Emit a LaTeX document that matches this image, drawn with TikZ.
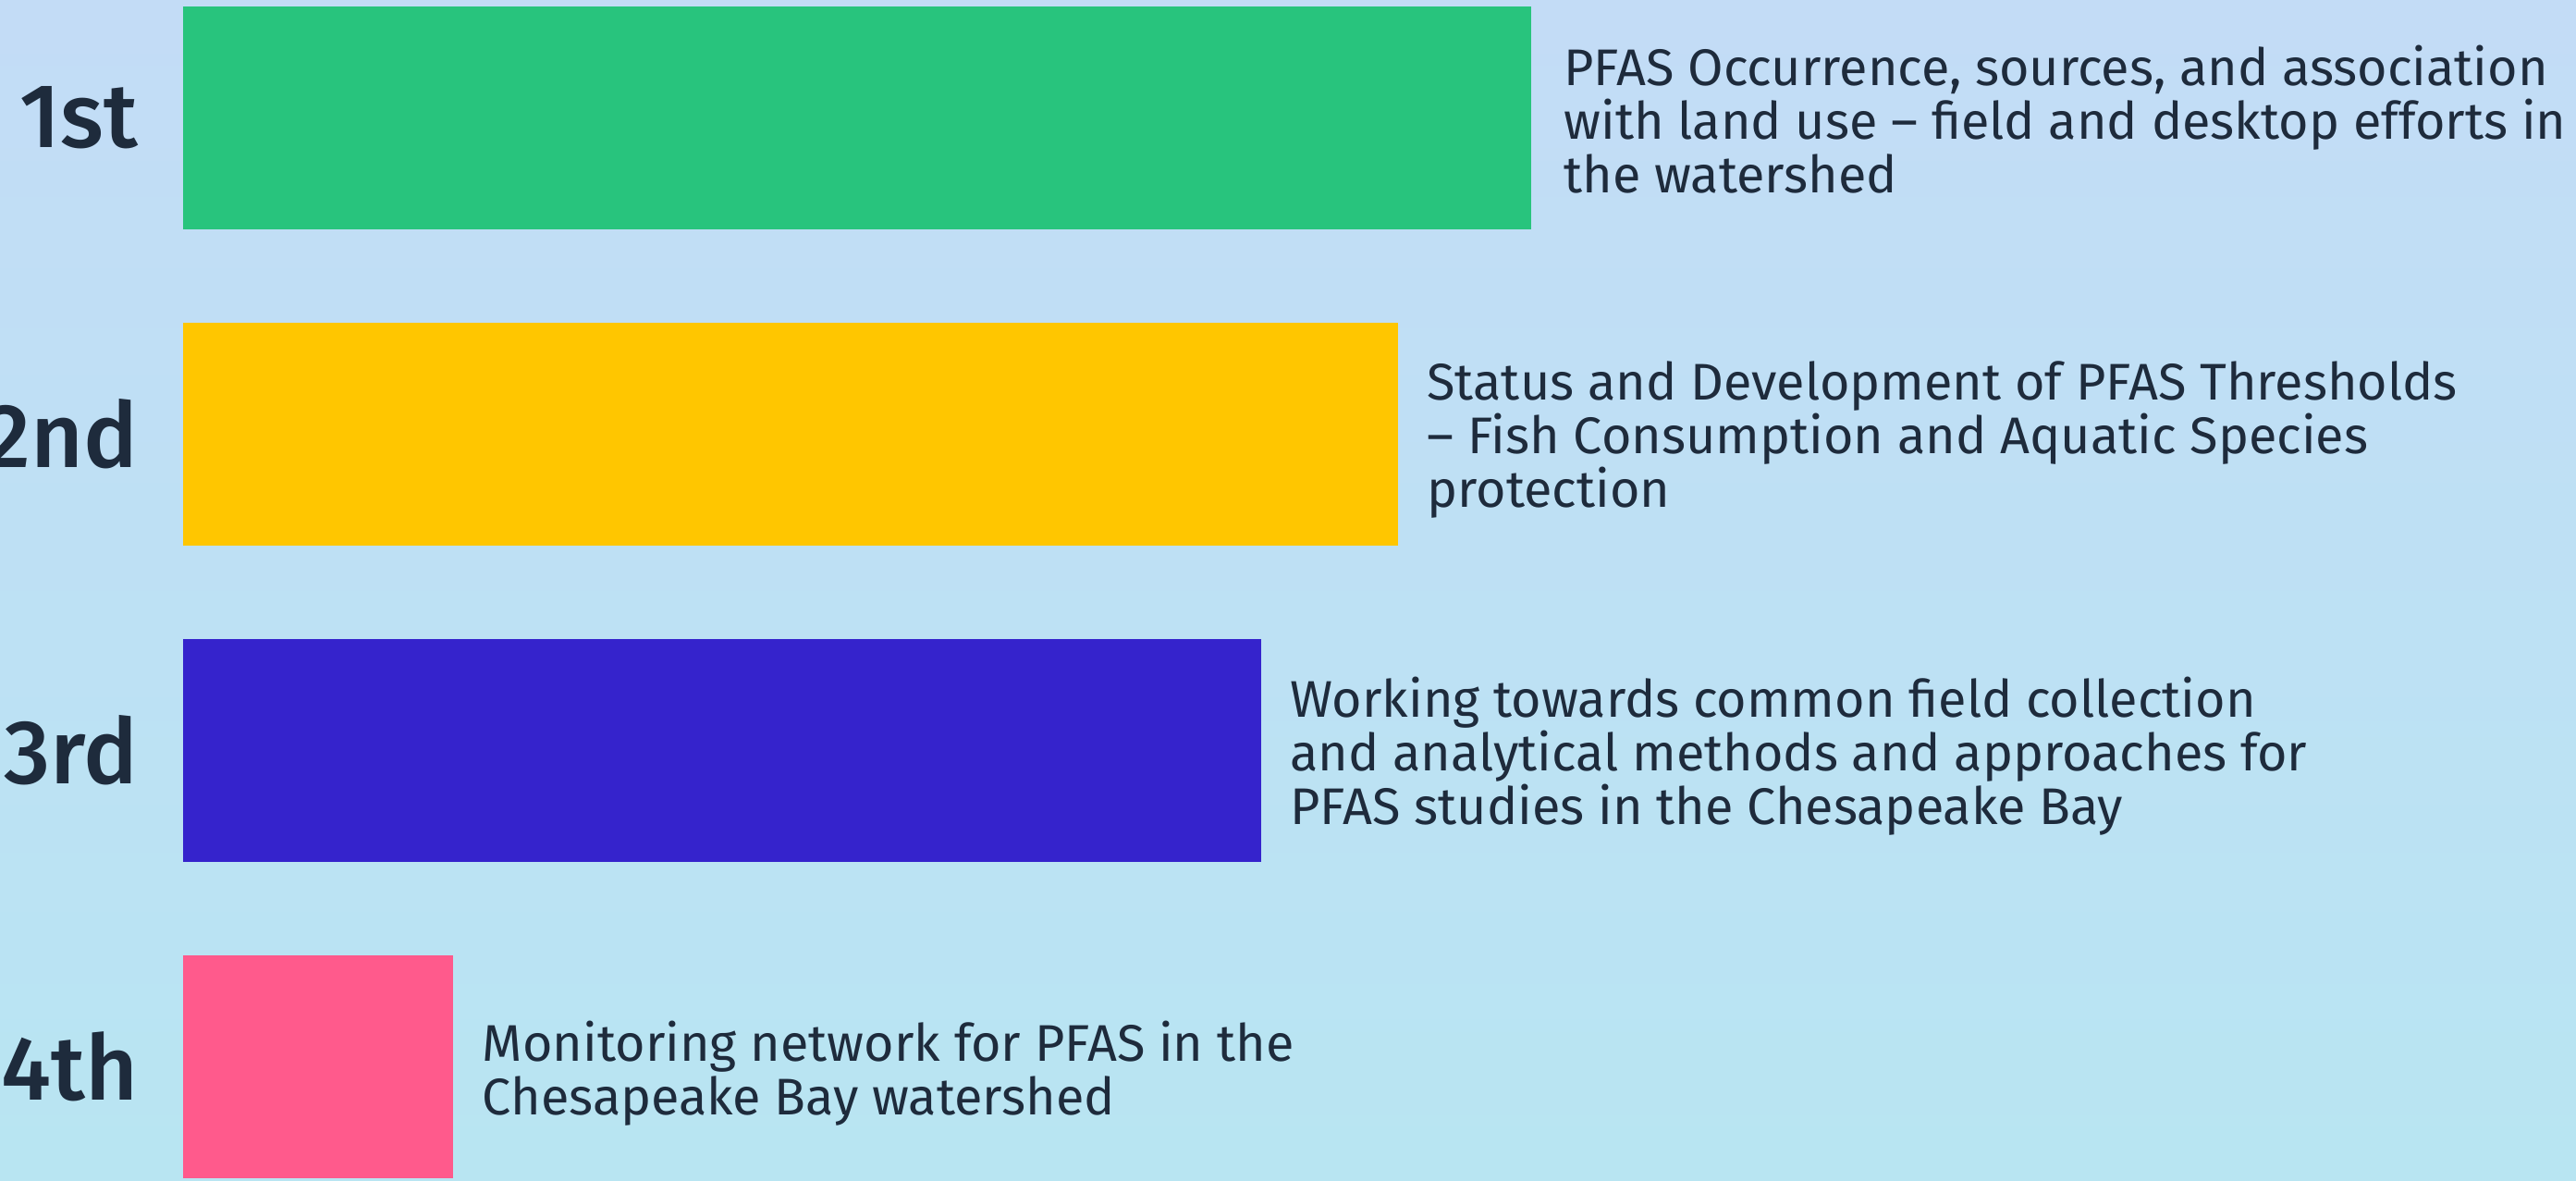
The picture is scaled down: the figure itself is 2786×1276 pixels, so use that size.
\documentclass[tikz,border=0pt]{standalone}
\usepackage{fontspec}
\setmainfont{Fira Sans}
\newfontfamily\labelfont{Fira Sans Medium}
\definecolor{bgtop}{HTML}{C3DCF6}
\definecolor{bgbot}{HTML}{B8E5F2}
\definecolor{cgreen}{HTML}{28C47D}
\definecolor{cyellow}{HTML}{FFC600}
\definecolor{cblue}{HTML}{3523CC}
\definecolor{cpink}{HTML}{FF5A8C}
\definecolor{ink}{HTML}{1E2B3C}
\tikzset{
  bar/.style={rectangle, inner sep=0pt, outer sep=0pt, anchor=north west, minimum height=2.41cm},
  desc/.style={anchor=west, align=left, inner sep=0pt, text=ink, font=\fontsize{15.85pt}{16.5pt}\selectfont},
  rank/.style={anchor=east, inner sep=0pt, text=ink, font=\labelfont\fontsize{27.9pt}{30pt}\selectfont}
}
\begin{document}
\begin{tikzpicture}[x=0.01cm,y=-0.01cm]
\useasboundingbox (0,0) rectangle (2786,1276);
\shade[top color=bgtop,bottom color=bgbot] (0,0) rectangle (2786,1276);

\node[bar, fill=cgreen, minimum width=14.57cm] (b1) at (198,7) {};
\node[bar, fill=cyellow, minimum width=13.13cm] (b2) at (198,349) {};
\node[bar, fill=cblue, minimum width=11.65cm] (b3) at (198,691) {};
\node[bar, fill=cpink, minimum width=2.92cm] (b4) at (198,1033) {};

\node[rank] (r1) at ([xshift=-0.48cm]b1.west) {1st};
\node[rank] (r2) at ([xshift=-0.48cm]b2.west) {2nd};
\node[rank] (r3) at ([xshift=-0.48cm]b3.west) {3rd};
\node[rank] (r4) at ([xshift=-0.48cm]b4.west) {4th};

\node[desc] (t1) at ([xshift=0.35cm,yshift=-0.02cm]b1.east) {PFAS Occurrence, sources, and association\\with land use – field and desktop efforts in\\the watershed};
\node[desc] (t2) at ([xshift=0.31cm,yshift=-0.06cm]b2.east) {Status and Development of PFAS Thresholds\\– Fish Consumption and Aquatic Species\\protection};
\node[desc] (t3) at ([xshift=0.31cm,yshift=-0.06cm]b3.east) {Working towards common field collection\\and analytical methods and approaches for\\PFAS studies in the Chesapeake Bay};
\node[desc] (t4) at ([xshift=0.31cm,yshift=-0.07cm]b4.east) {Monitoring network for PFAS in the\\Chesapeake Bay watershed};
\end{tikzpicture}
\end{document}
